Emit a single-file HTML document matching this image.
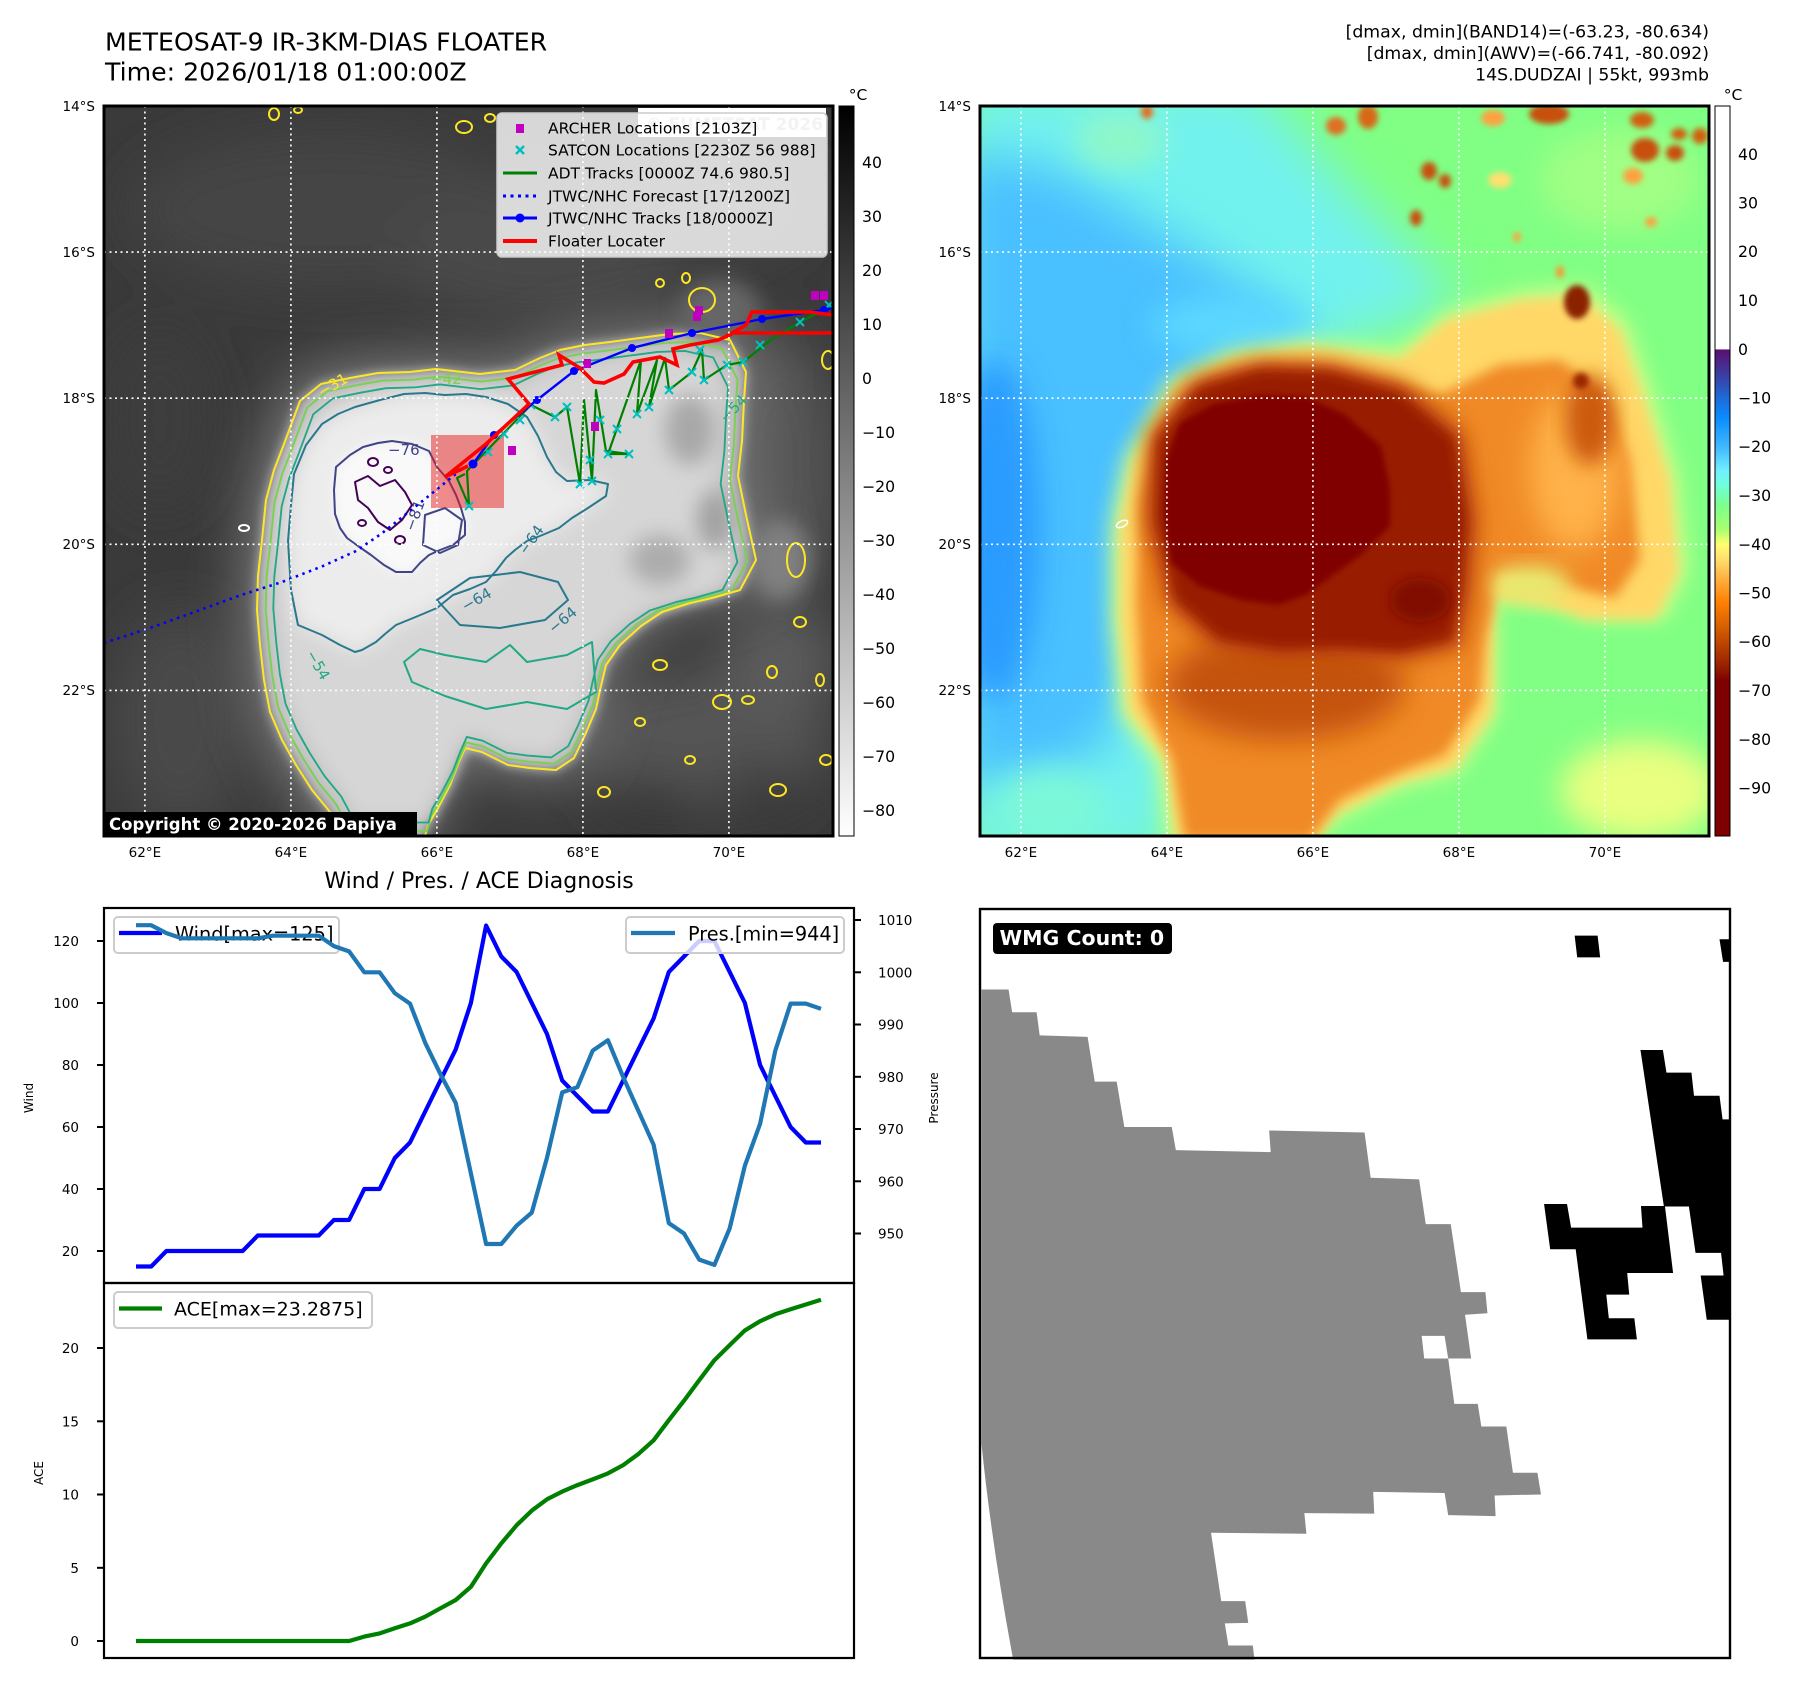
<!DOCTYPE html>
<html><head><meta charset="utf-8">
<style>
html,body{margin:0;padding:0;background:#fff;}
svg{display:block;}
text{font-family:"DejaVu Sans","Liberation Sans",sans-serif;}
</style></head>
<body>
<svg width="1797" height="1695" viewBox="0 0 1797 1695" xmlns="http://www.w3.org/2000/svg">
<defs>
<clipPath id="cl"><rect x="104" y="106" width="729" height="730"/></clipPath>
<clipPath id="cr"><rect x="980" y="106" width="729" height="730"/></clipPath>
<clipPath id="cw"><rect x="104" y="908" width="750" height="375"/></clipPath>
<clipPath id="ca"><rect x="104" y="1283" width="750" height="375"/></clipPath>
<filter id="b3" x="-20%" y="-20%" width="140%" height="140%"><feGaussianBlur stdDeviation="3"/></filter>
<filter id="b6" x="-20%" y="-20%" width="140%" height="140%"><feGaussianBlur stdDeviation="6"/></filter>
<filter id="b10" x="-30%" y="-30%" width="160%" height="160%"><feGaussianBlur stdDeviation="10"/></filter>
<filter id="b15" x="-40%" y="-40%" width="180%" height="180%"><feGaussianBlur stdDeviation="15"/></filter>
<filter id="b25" x="-50%" y="-50%" width="200%" height="200%"><feGaussianBlur stdDeviation="25"/></filter>
<linearGradient id="gcb" x1="0" y1="0" x2="0" y2="1">
<stop offset="0" stop-color="#000"/><stop offset="1" stop-color="#fff"/>
</linearGradient>
<linearGradient id="ccb" x1="0" y1="0" x2="0" y2="1">
<stop offset="0" stop-color="#fff"/><stop offset="0.333" stop-color="#fff"/>
<stop offset="0.334" stop-color="#5a1070"/>
<stop offset="0.367" stop-color="#3c3ca0"/>
<stop offset="0.4" stop-color="#1e6ad8"/>
<stop offset="0.427" stop-color="#0a8cff"/>
<stop offset="0.467" stop-color="#40b8ff"/>
<stop offset="0.5" stop-color="#70f0ff"/>
<stop offset="0.52" stop-color="#70ffd8"/>
<stop offset="0.547" stop-color="#7cff8c"/>
<stop offset="0.58" stop-color="#a8ff70"/>
<stop offset="0.6" stop-color="#ffff70"/>
<stop offset="0.62" stop-color="#ffe070"/>
<stop offset="0.647" stop-color="#ffb040"/>
<stop offset="0.68" stop-color="#ff8000"/>
<stop offset="0.713" stop-color="#d86000"/>
<stop offset="0.747" stop-color="#b03800"/>
<stop offset="0.773" stop-color="#901800"/>
<stop offset="0.787" stop-color="#7f0000"/>
<stop offset="1" stop-color="#7f0000"/>
</linearGradient>
</defs>

<!-- Titles -->
<text x="105" y="50.5" font-size="25.2">METEOSAT-9 IR-3KM-DIAS FLOATER</text>
<text x="105" y="80.5" font-size="25.2">Time: 2026/01/18 01:00:00Z</text>
<text x="1709" y="37.3" font-size="17.3" text-anchor="end">[dmax, dmin](BAND14)=(-63.23, -80.634)</text>
<text x="1709" y="59" font-size="17.3" text-anchor="end">[dmax, dmin](AWV)=(-66.741, -80.092)</text>
<text x="1709" y="80.7" font-size="17.3" text-anchor="end">14S.DUDZAI | 55kt, 993mb</text>

<!-- ================= LEFT MAP ================= -->
<g clip-path="url(#cl)">
<rect x="104" y="106" width="729" height="730" fill="#3a3a3a"/>
<g filter="url(#b25)">
<ellipse cx="330" cy="210" rx="200" ry="80" fill="#444"/>
<ellipse cx="540" cy="250" rx="150" ry="70" fill="#4a4a4a"/>
<ellipse cx="720" cy="200" rx="90" ry="60" fill="#454545"/>
<ellipse cx="780" cy="470" rx="60" ry="140" fill="#555"/>
<ellipse cx="700" cy="740" rx="130" ry="70" fill="#545454"/>
<ellipse cx="780" cy="660" rx="60" ry="50" fill="#5c5c5c"/>
<ellipse cx="650" cy="805" rx="45" ry="25" fill="#343434"/>
<ellipse cx="760" cy="790" rx="40" ry="25" fill="#3a3a3a"/>
<ellipse cx="180" cy="720" rx="70" ry="110" fill="#484848"/>
<ellipse cx="160" cy="420" rx="50" ry="90" fill="#3e3e3e"/>
</g>
<g transform="translate(505 590) scale(1.06) translate(-505 -590)" filter="url(#b25)">
<path fill="#787878" d="M300,401 L321,384 L350,378 L378,373 L410,372 L436,369 L480,374 L515,370 L540,358 L560,350 L585,345 L610,342 L640,338 L670,334 L700,333 L730,340 L746,372 L744,400 L742,441 L738,476 L746,515 L756,560 L740,590 L712,598 L690,603 L662,612 L641,626 L620,645 L606,665 L600,690 L596,709 L585,735 L574,758 L556,770 L530,768 L508,765 L482,752 L465,748 L458,764 L450,785 L438,808 L428,825 L424,840 L345,840 L330,812 L312,790 L296,765 L282,740 L270,712 L264,680 L260,645 L257,610 L258,576 L262,540 L266,500 L274,470 L284,444 Z"/>
</g>
<path fill="#c0c0c0" filter="url(#b6)" d="M300,401 L321,384 L350,378 L378,373 L410,372 L436,369 L480,374 L515,370 L540,358 L560,350 L585,345 L610,342 L640,338 L670,334 L700,333 L730,340 L746,372 L744,400 L742,441 L738,476 L746,515 L756,560 L740,590 L712,598 L690,603 L662,612 L641,626 L620,645 L606,665 L600,690 L596,709 L585,735 L574,758 L556,770 L530,768 L508,765 L482,752 L465,748 L458,764 L450,785 L438,808 L428,825 L424,840 L345,840 L330,812 L312,790 L296,765 L282,740 L270,712 L264,680 L260,645 L257,610 L258,576 L262,540 L266,500 L274,470 L284,444 Z"/>
<g transform="translate(470 590) scale(0.92) translate(-470 -590)" filter="url(#b10)">
<path fill="#d6d6d6" d="M300,401 L321,384 L350,378 L378,373 L410,372 L436,369 L480,374 L515,370 L540,358 L560,350 L585,345 L610,342 L640,338 L670,334 L700,333 L730,340 L746,372 L744,400 L742,441 L738,476 L746,515 L756,560 L740,590 L712,598 L690,603 L662,612 L641,626 L620,645 L606,665 L600,690 L596,709 L585,735 L574,758 L556,770 L530,768 L508,765 L482,752 L465,748 L458,764 L450,785 L438,808 L428,825 L424,840 L345,840 L330,812 L312,790 L296,765 L282,740 L270,712 L264,680 L260,645 L257,610 L258,576 L262,540 L266,500 L274,470 L284,444 Z"/>
</g>
<g filter="url(#b10)">
<ellipse cx="690" cy="430" rx="25" ry="35" fill="#a8a8a8"/>
<ellipse cx="660" cy="560" rx="30" ry="25" fill="#acacac"/>
<ellipse cx="715" cy="520" rx="18" ry="30" fill="#a0a0a0"/>
</g>
<path fill="#ececec" filter="url(#b10)" d="M298,625 L291,590 L288,541 L291,505 L294,474 L306,445 L322,424 L338,414 L355,407 L380,400 L404,394 L425,393 L445,395 L466,394 L486,397 L508,404 L527,417 L538,436 L547,457 L556,472 L567,481 L590,480 L608,484 L606,496 L588,508 L572,518 L559,528 L540,536 L527,541 L515,550 L506,558 L496,571 L486,582 L470,589 L453,595 L437,608 L418,616 L396,625 L385,634 L376,642 L362,650 L355,652 L340,645 L322,635 L310,630 Z"/>
<path fill="#f9f9f9" filter="url(#b6)" d="M335,514 L334,490 L336,467 L350,455 L363,447 L378,443 L392,441 L412,444 L429,451 L437,467 L449,481 L456,495 L461,508 L465,522 L465,535 L453,545 L440,550 L429,555 L420,563 L412,572 L396,572 L384,565 L371,555 L358,546 L347,538 L340,528 Z"/>
<ellipse cx="720" cy="310" rx="40" ry="30" fill="#666" filter="url(#b10)"/>
<ellipse cx="780" cy="560" rx="30" ry="40" fill="#808080" filter="url(#b10)"/>

<g fill="none" stroke-width="2" stroke-linejoin="round">
<path stroke="#fde725" d="M300,401 L321,384 L350,378 L378,373 L410,372 L436,369 L480,374 L515,370 L540,358 L560,350 L585,345 L610,342 L640,338 L670,334 L700,333 L730,340 L746,372 L744,400 L742,441 L738,476 L746,515 L756,560 L740,590 L712,598 L690,603 L662,612 L641,626 L620,645 L606,665 L600,690 L596,709 L585,735 L574,758 L556,770 L530,768 L508,765 L482,752 L465,748 L458,764 L450,785 L438,808 L428,825 L424,840 L345,840 L330,812 L312,790 L296,765 L282,740 L270,712 L264,680 L260,645 L257,610 L258,576 L262,540 L266,500 L274,470 L284,444 Z"/>
<g transform="translate(505 590) scale(0.965) translate(-505 -590)">
<path stroke="#7ad151" d="M300,401 L321,384 L350,378 L378,373 L410,372 L436,369 L480,374 L515,370 L540,358 L560,350 L585,345 L610,342 L640,338 L670,334 L700,333 L730,340 L746,372 L744,400 L742,441 L738,476 L746,515 L756,560 L740,590 L712,598 L690,603 L662,612 L641,626 L620,645 L606,665 L600,690 L596,709 L585,735 L574,758 L556,770 L530,768 L508,765 L482,752 L465,748 L458,764 L450,785 L438,808 L428,825 L424,840 L345,840 L330,812 L312,790 L296,765 L282,740 L270,712 L264,680 L260,645 L257,610 L258,576 L262,540 L266,500 L274,470 L284,444 Z"/>
</g>
<g transform="translate(490 590) scale(0.93) translate(-490 -590)">
<path stroke="#22a884" d="M300,401 L321,384 L350,378 L378,373 L410,372 L436,369 L480,374 L515,370 L540,358 L560,350 L585,345 L610,342 L640,338 L670,334 L700,333 L730,340 L746,372 L744,400 L742,441 L738,476 L746,515 L756,560 L740,590 L712,598 L690,603 L662,612 L641,626 L620,645 L606,665 L600,690 L596,709 L585,735 L574,758 L556,770 L530,768 L508,765 L482,752 L465,748 L458,764 L450,785 L438,808 L428,825 L424,840 L345,840 L330,812 L312,790 L296,765 L282,740 L270,712 L264,680 L260,645 L257,610 L258,576 L262,540 L266,500 L274,470 L284,444 Z"/>
</g>
<path stroke="#22a884" d="M404,662 L420,649 L445,655 L486,662 L510,645 L527,662 L567,655 L592,642 L596,692 L567,709 L527,702 L486,709 L445,696 L412,682 Z"/>
<path stroke="#2a788e" d="M298,625 L291,590 L288,541 L291,505 L294,474 L306,445 L322,424 L338,414 L355,407 L380,400 L404,394 L425,393 L445,395 L466,394 L486,397 L508,404 L527,417 L538,436 L547,457 L556,472 L567,481 L590,480 L608,484 L606,496 L588,508 L572,518 L559,528 L540,536 L527,541 L515,550 L506,558 L496,571 L486,582 L470,589 L453,595 L437,608 L418,616 L396,625 L385,634 L376,642 L362,650 L355,652 L340,645 L322,635 L310,630 Z"/>
<path stroke="#2a788e" d="M437,600 L470,578 L520,572 L558,582 L568,600 L545,620 L500,628 L460,625 Z"/>
<path stroke="#414487" d="M335,514 L334,490 L336,467 L350,455 L363,447 L378,443 L392,441 L412,444 L429,451 L437,467 L449,481 L456,495 L461,508 L465,522 L465,535 L453,545 L440,550 L429,555 L420,563 L412,572 L396,572 L384,565 L371,555 L358,546 L347,538 L340,528 Z"/>
<path stroke="#414487" d="M425,515 L445,508 L462,520 L458,545 L440,553 L423,545 Z"/>
<path stroke="#440154" d="M355,482 L368,476 L380,486 L395,480 L405,492 L412,505 L402,520 L390,530 L378,522 L368,508 L358,500 Z"/>
<ellipse cx="373" cy="462" rx="5" ry="4" stroke="#440154"/>
<ellipse cx="388" cy="470" rx="4" ry="3" stroke="#440154"/>
<ellipse cx="362" cy="523" rx="4" ry="3" stroke="#440154"/>
<ellipse cx="400" cy="540" rx="5" ry="4" stroke="#440154"/>
<g stroke="#fde725">
<ellipse cx="274" cy="114" rx="5" ry="6"/>
<ellipse cx="298" cy="110" rx="4" ry="3"/>
<ellipse cx="464" cy="127" rx="8" ry="6"/>
<ellipse cx="490" cy="118" rx="5" ry="4"/>
<ellipse cx="702" cy="300" rx="13" ry="12"/>
<ellipse cx="660" cy="283" rx="4" ry="4"/>
<ellipse cx="686" cy="278" rx="4" ry="5"/>
<ellipse cx="828" cy="360" rx="6" ry="9"/>
<ellipse cx="796" cy="560" rx="9" ry="17"/>
<ellipse cx="800" cy="622" rx="6" ry="5"/>
<ellipse cx="778" cy="790" rx="8" ry="6"/>
<ellipse cx="660" cy="665" rx="7" ry="5"/>
<ellipse cx="722" cy="702" rx="9" ry="7"/>
<ellipse cx="772" cy="672" rx="5" ry="6"/>
<ellipse cx="640" cy="722" rx="5" ry="4"/>
<ellipse cx="826" cy="760" rx="6" ry="5"/>
<ellipse cx="604" cy="792" rx="6" ry="5"/>
<ellipse cx="748" cy="700" rx="6" ry="4"/>
<ellipse cx="820" cy="680" rx="4" ry="6"/>
<ellipse cx="690" cy="760" rx="5" ry="4"/>
<ellipse cx="244" cy="528" rx="5" ry="3" stroke="#ffffff"/>
</g>
</g>
<g font-size="15">
<text x="318" y="392" fill="#fde725" transform="rotate(-30 330 388)">−31</text>
<text x="430" y="384" fill="#7ad151">−42</text>
<text x="388" y="455" fill="#414487">−76</text>
<text x="400" y="528" fill="#414487" transform="rotate(-70 410 520)">−81</text>
<text x="513" y="550" fill="#2a788e" transform="rotate(-55 525 540)">−64</text>
<text x="460" y="608" fill="#2a788e" transform="rotate(-30 470 600)">−64</text>
<text x="545" y="630" fill="#2a788e" transform="rotate(-40 555 620)">−64</text>
<text x="716" y="420" fill="#22a884" transform="rotate(-45 725 410)">−54</text>
<text x="305" y="665" fill="#22a884" transform="rotate(60 315 660)">−54</text>
</g>

<rect x="431" y="435" width="73" height="73" fill="#e81e1e" opacity="0.5"/>

<path fill="none" stroke="#0000ff" stroke-width="2.6" stroke-dasharray="2.5,4.5" d="M104,643 L150,628 L200,610 L241,595 L282,582 L323,566 L356,551 L381,534 L430,495 L463,468 L473,464"/>
<path fill="none" stroke="#008000" stroke-width="2.2" stroke-linejoin="round" d="M833,305 L800,322 L771,340 L743,362 L727,365 L704,380 L702,350 L692,372 L669,390 L665,358 L649,407 L657,360 L637,414 L641,360 L608,454 L629,454 L606,451 L596,390 L592,481 L584,400 L580,484 L567,407 L555,417 L531,405 L467,471 L469,506 L457,478 L465,474"/>
<path fill="none" stroke="#00bfbf" stroke-width="2" d="M739,358 l8,8 m0,-8 l-8,8 M723,361 l8,8 m0,-8 l-8,8 M700,376 l8,8 m0,-8 l-8,8 M688,368 l8,8 m0,-8 l-8,8 M665,386 l8,8 m0,-8 l-8,8 M645,403 l8,8 m0,-8 l-8,8 M633,410 l8,8 m0,-8 l-8,8 M604,450 l8,8 m0,-8 l-8,8 M625,450 l8,8 m0,-8 l-8,8 M588,477 l8,8 m0,-8 l-8,8 M576,480 l8,8 m0,-8 l-8,8 M563,403 l8,8 m0,-8 l-8,8 M551,413 l8,8 m0,-8 l-8,8 M527,401 l8,8 m0,-8 l-8,8 M465,502 l8,8 m0,-8 l-8,8 M596,416 l8,8 m0,-8 l-8,8 M586,456 l8,8 m0,-8 l-8,8 M516,416 l8,8 m0,-8 l-8,8 M696,346 l8,8 m0,-8 l-8,8 M756,341 l8,8 m0,-8 l-8,8 M796,318 l8,8 m0,-8 l-8,8 M825,301 l8,8 m0,-8 l-8,8 M500,430 l8,8 m0,-8 l-8,8 M484,448 l8,8 m0,-8 l-8,8 M613,425 l8,8 m0,-8 l-8,8"/>
<path fill="none" stroke="#0000ff" stroke-width="2.4" d="M833,308 L824,310 L762,319 L692,333 L632,348 L574,371 L537,400 L494,435 L473,464"/>
<g fill="#0000ff">
<circle cx="824" cy="310" r="4"/><circle cx="762" cy="319" r="4"/><circle cx="692" cy="333" r="4"/><circle cx="632" cy="348" r="4"/><circle cx="574" cy="371" r="4"/><circle cx="537" cy="400" r="4"/><circle cx="494" cy="435" r="4"/><circle cx="473" cy="464" r="4.5"/>
</g>
<path fill="none" stroke="#ff0000" stroke-width="3.6" stroke-linejoin="miter" d="M833,315 L809,312 L752,312 L746,325 L732,333 L833,333 M732,334 L718,340 L690,345 L673,349 L677,365 L660,357 L633,362 L624,374 L604,383 L594,382 L580,368 L559,355 L562,365 L508,379 L529,404 L486,444 L445,477 L468,466"/>
<g fill="#bf00bf">
<rect x="811" y="291" width="8" height="9"/><rect x="820" y="291" width="8" height="9"/><rect x="695" y="306" width="8" height="9"/><rect x="693" y="312" width="8" height="9"/><rect x="665" y="329" width="8" height="9"/><rect x="583" y="359" width="8" height="9"/><rect x="591" y="422" width="8" height="9"/><rect x="508" y="446" width="8" height="9"/>
</g>

<g stroke="#fff" stroke-width="1.6" stroke-dasharray="2,3.5">
<line x1="144.9" y1="106" x2="144.9" y2="836"/><line x1="290.9" y1="106" x2="290.9" y2="836"/><line x1="436.9" y1="106" x2="436.9" y2="836"/><line x1="582.9" y1="106" x2="582.9" y2="836"/><line x1="728.9" y1="106" x2="728.9" y2="836"/>
<line x1="104" y1="252.1" x2="833" y2="252.1"/><line x1="104" y1="398.2" x2="833" y2="398.2"/><line x1="104" y1="544.3" x2="833" y2="544.3"/><line x1="104" y1="690.4" x2="833" y2="690.4"/>
</g>

<rect x="638" y="108" width="188" height="29" fill="#fff"/>
<text x="823" y="130" font-size="17" font-weight="bold" fill="#c4c4c4" text-anchor="end">© EUMETSAT 2026</text>
<rect x="497" y="113" width="330" height="144" rx="5" fill="#fff" fill-opacity="0.8" stroke="#cccccc" stroke-width="1.5"/>
<rect x="516" y="124" width="8" height="9" fill="#bf00bf"/>
<path d="M516,146 l8,8 m0,-8 l-8,8" stroke="#00bfbf" stroke-width="2.5" fill="none"/>
<line x1="503" y1="173" x2="537" y2="173" stroke="#008000" stroke-width="3"/>
<line x1="503" y1="196" x2="537" y2="196" stroke="#0000ff" stroke-width="3" stroke-dasharray="3,4.5"/>
<line x1="503" y1="218" x2="537" y2="218" stroke="#0000ff" stroke-width="3"/>
<circle cx="520" cy="218" r="4.5" fill="#0000ff"/>
<line x1="503" y1="241" x2="537" y2="241" stroke="#ff0000" stroke-width="4"/>
<g font-size="15.5" fill="#000">
<text x="548" y="133.5">ARCHER Locations [2103Z]</text>
<text x="548" y="155.5">SATCON Locations [2230Z 56 988]</text>
<text x="548" y="178.5">ADT Tracks [0000Z 74.6 980.5]</text>
<text x="548" y="201.5">JTWC/NHC Forecast [17/1200Z]</text>
<text x="548" y="223.5">JTWC/NHC Tracks [18/0000Z]</text>
<text x="548" y="246.5">Floater Locater</text>
</g>
<rect x="104" y="812" width="313" height="24" fill="#000"/>
<text x="109" y="830" font-size="16.5" font-weight="bold" fill="#fff">Copyright © 2020-2026 Dapiya</text>
</g>
<rect x="104" y="106" width="729" height="730" fill="none" stroke="#000" stroke-width="3"/>

<g font-size="13.5" fill="#000">
<text x="95" y="111" text-anchor="end">14°S</text>
<text x="95" y="257" text-anchor="end">16°S</text>
<text x="95" y="403" text-anchor="end">18°S</text>
<text x="95" y="549" text-anchor="end">20°S</text>
<text x="95" y="695" text-anchor="end">22°S</text>
<text x="144.9" y="857" text-anchor="middle">62°E</text>
<text x="290.9" y="857" text-anchor="middle">64°E</text>
<text x="436.9" y="857" text-anchor="middle">66°E</text>
<text x="582.9" y="857" text-anchor="middle">68°E</text>
<text x="728.9" y="857" text-anchor="middle">70°E</text>
</g>

<rect x="839" y="106" width="15" height="730" fill="url(#gcb)" stroke="#000" stroke-width="1"/>
<text x="858" y="100" font-size="15.5" text-anchor="middle">°C</text>
<g font-size="15.7" fill="#000">
<text x="862" y="168">40</text><text x="862" y="222">30</text><text x="862" y="276">20</text><text x="862" y="330">10</text><text x="862" y="384">0</text>
<text x="862" y="438">−10</text><text x="862" y="492">−20</text><text x="862" y="546">−30</text><text x="862" y="600">−40</text><text x="862" y="654">−50</text>
<text x="862" y="708">−60</text><text x="862" y="762">−70</text><text x="862" y="816">−80</text>
</g>

<!-- ================= RIGHT MAP ================= -->
<g clip-path="url(#cr)">
<rect x="980" y="106" width="729" height="730" fill="#80ff84"/>
<polygon filter="url(#b25)" fill="#72f2ee" points="960,80 1255,80 1340,180 1460,300 1300,360 1200,400 1170,860 960,860"/>
<polygon filter="url(#b25)" fill="#48c0ff" points="960,150 1060,170 1200,255 1310,330 1210,380 1150,520 1140,680 1090,760 960,790"/>
<ellipse cx="995" cy="530" rx="45" ry="170" fill="#2a9cff" filter="url(#b15)"/>
<ellipse cx="1230" cy="325" rx="80" ry="28" fill="#5cd8ff" filter="url(#b15)"/>
<ellipse cx="1120" cy="140" rx="45" ry="28" fill="#90f8c8" filter="url(#b15)"/>
<ellipse cx="1050" cy="810" rx="60" ry="40" fill="#7cf8d8" filter="url(#b15)"/>
<ellipse cx="1640" cy="790" rx="80" ry="50" fill="#e8ff80" filter="url(#b15)"/>
<ellipse cx="1620" cy="180" rx="80" ry="50" fill="#a0ff84" filter="url(#b15)"/>
<g transform="translate(1400 590) scale(1.035) translate(-1400 -590)" filter="url(#b10)">
<path fill="#c8ff88" d="M1157,423 L1176,386 L1236,358 L1306,348 L1400,358 L1446,320 L1520,300 L1580,295 L1620,330 L1640,386 L1670,479 L1679,572 L1656,619 L1586,619 L1530,600 L1493,595 L1493,712 L1455,768 L1400,782 L1334,815 L1316,840 L1176,840 L1166,759 L1129,712 L1120,619 L1120,526 L1134,460 Z"/>
</g>
<path fill="#ffd868" filter="url(#b6)" d="M1157,423 L1176,386 L1236,358 L1306,348 L1400,358 L1446,320 L1520,300 L1580,295 L1620,330 L1640,386 L1670,479 L1679,572 L1656,619 L1586,619 L1530,600 L1493,595 L1493,712 L1455,768 L1400,782 L1334,815 L1316,840 L1176,840 L1166,759 L1129,712 L1120,619 L1120,526 L1134,460 Z"/>
<path fill="#f08a26" filter="url(#b6)" d="M1140,500 L1160,430 L1210,380 L1270,365 L1330,368 L1390,380 L1440,395 L1500,365 L1560,360 L1605,395 L1630,460 L1640,560 L1615,598 L1560,585 L1500,575 L1485,640 L1480,700 L1445,755 L1400,772 L1340,800 L1310,840 L1185,840 L1172,760 L1142,700 L1136,600 Z"/>
<ellipse cx="1575" cy="470" rx="45" ry="80" fill="#ffb24a" filter="url(#b15)"/>
<ellipse cx="1530" cy="585" rx="40" ry="20" fill="#e8e870" filter="url(#b10)"/>
<ellipse cx="1285" cy="685" rx="120" ry="55" fill="#c4520e" filter="url(#b15)"/>
<ellipse cx="1590" cy="420" rx="25" ry="45" fill="#cc5a10" filter="url(#b10)"/>
<g transform="translate(1310 520) scale(1.07) translate(-1310 -520)" filter="url(#b10)">
<path fill="#c04a08" d="M1158,440 L1198,388 L1260,370 L1330,372 L1400,392 L1455,438 L1468,520 L1462,590 L1452,640 L1400,652 L1340,648 L1280,650 L1220,640 L1175,600 L1155,520 Z"/>
</g>
<path fill="#981c00" filter="url(#b6)" d="M1158,440 L1198,388 L1260,370 L1330,372 L1400,392 L1455,438 L1468,520 L1462,590 L1452,640 L1400,652 L1340,648 L1280,650 L1220,640 L1175,600 L1155,520 Z"/>
<path fill="#800000" filter="url(#b3)" d="M1166,460 L1180,423 L1213,404 L1260,395 L1306,397 L1344,414 L1381,446 L1390,488 L1390,526 L1362,554 L1306,595 L1278,605 L1241,600 L1199,586 L1171,563 L1164,516 Z"/>
<ellipse cx="1420" cy="600" rx="30" ry="22" fill="#801000" filter="url(#b6)"/>
<g filter="url(#b3)">
<ellipse cx="1147" cy="112" rx="6" ry="7" fill="#e07020"/>
<ellipse cx="1336" cy="126" rx="10" ry="9" fill="#e07020"/>
<ellipse cx="1368" cy="117" rx="10" ry="12" fill="#d86818"/>
<ellipse cx="1429" cy="171" rx="8" ry="9" fill="#c85010"/>
<ellipse cx="1445" cy="181" rx="6" ry="7" fill="#c85010"/>
<ellipse cx="1416" cy="218" rx="6" ry="8" fill="#c85010"/>
<ellipse cx="1549" cy="114" rx="20" ry="10" fill="#c85010"/>
<ellipse cx="1493" cy="118" rx="12" ry="8" fill="#ffa040"/>
<ellipse cx="1642" cy="120" rx="12" ry="8" fill="#d06010"/>
<ellipse cx="1645" cy="150" rx="14" ry="12" fill="#c85010"/>
<ellipse cx="1675" cy="153" rx="9" ry="8" fill="#c85010"/>
<ellipse cx="1679" cy="134" rx="8" ry="6" fill="#d06010"/>
<ellipse cx="1700" cy="136" rx="8" ry="8" fill="#d06010"/>
<ellipse cx="1633" cy="176" rx="10" ry="8" fill="#ffa040"/>
<ellipse cx="1577" cy="302" rx="13" ry="17" fill="#8a2000"/>
<ellipse cx="1581" cy="381" rx="8" ry="8" fill="#9a2800"/>
<ellipse cx="1517" cy="237" rx="4" ry="5" fill="#ffa040"/>
<ellipse cx="1651" cy="222" rx="6" ry="5" fill="#ffa040"/>
<ellipse cx="1560" cy="272" rx="4" ry="6" fill="#ff9030"/>
<ellipse cx="1500" cy="180" rx="12" ry="8" fill="#ffe070"/>
</g>
<g stroke="#fff" stroke-width="1.6" stroke-dasharray="2,3.5">
<line x1="1020.9" y1="106" x2="1020.9" y2="836"/><line x1="1166.9" y1="106" x2="1166.9" y2="836"/><line x1="1312.9" y1="106" x2="1312.9" y2="836"/><line x1="1458.9" y1="106" x2="1458.9" y2="836"/><line x1="1604.9" y1="106" x2="1604.9" y2="836"/>
<line x1="980" y1="252.1" x2="1709" y2="252.1"/><line x1="980" y1="398.2" x2="1709" y2="398.2"/><line x1="980" y1="544.3" x2="1709" y2="544.3"/><line x1="980" y1="690.4" x2="1709" y2="690.4"/>
</g>
<ellipse cx="1122" cy="524" rx="6" ry="3" fill="none" stroke="#fff" stroke-width="1.5" transform="rotate(-25 1122 524)"/>
</g>
<rect x="980" y="106" width="729" height="730" fill="none" stroke="#000" stroke-width="3"/>
<g font-size="13.5" fill="#000">
<text x="971" y="111" text-anchor="end">14°S</text>
<text x="971" y="257" text-anchor="end">16°S</text>
<text x="971" y="403" text-anchor="end">18°S</text>
<text x="971" y="549" text-anchor="end">20°S</text>
<text x="971" y="695" text-anchor="end">22°S</text>
<text x="1020.9" y="857" text-anchor="middle">62°E</text>
<text x="1166.9" y="857" text-anchor="middle">64°E</text>
<text x="1312.9" y="857" text-anchor="middle">66°E</text>
<text x="1458.9" y="857" text-anchor="middle">68°E</text>
<text x="1604.9" y="857" text-anchor="middle">70°E</text>
</g>
<rect x="1715" y="106" width="15" height="730" fill="url(#ccb)" stroke="#000" stroke-width="1"/>
<text x="1733" y="100" font-size="15.5" text-anchor="middle">°C</text>
<g font-size="15.7" fill="#000">
<text x="1738" y="160">40</text><text x="1738" y="208.5">30</text><text x="1738" y="257">20</text><text x="1738" y="306">10</text><text x="1738" y="355">0</text>
<text x="1738" y="403.5">−10</text><text x="1738" y="452">−20</text><text x="1738" y="501">−30</text><text x="1738" y="550">−40</text><text x="1738" y="598.5">−50</text>
<text x="1738" y="647">−60</text><text x="1738" y="696">−70</text><text x="1738" y="745">−80</text><text x="1738" y="793.5">−90</text>
</g>

<!-- ================= WIND / PRES / ACE ================= -->
<text x="479" y="888" font-size="22" text-anchor="middle">Wind / Pres. / ACE Diagnosis</text>
<g clip-path="url(#cw)">
<polyline fill="none" stroke="#0000ff" stroke-width="4.2" stroke-linejoin="round" points="136,1266.5 151.2,1266.5 166.4,1251 181.7,1251 196.9,1251 212.1,1251 227.3,1251 242.6,1251 257.8,1235.5 273,1235.5 288.2,1235.5 303.4,1235.5 318.7,1235.5 333.9,1220 349.1,1220 364.3,1189 379.6,1189 394.8,1158 410,1142.5 425.2,1111.5 440.4,1080.5 455.7,1049.5 470.9,1003 486.1,925.5 501.3,956.5 516.6,972 531.8,1003 547,1034 562.2,1080.5 577.4,1096 592.7,1111.5 607.9,1111.5 623.1,1080.5 638.3,1049.5 653.6,1018.5 668.8,972 684,956.5 699.2,941 714.4,941 729.7,972 744.9,1003 760.1,1065 775.3,1096 790.6,1127 805.8,1142.5 821,1142.5"/>
<rect x="114" y="917" width="225" height="36" rx="4" fill="#fff" fill-opacity="0.8" stroke="#cccccc" stroke-width="2"/>
<line x1="119" y1="933" x2="162" y2="933" stroke="#0000ff" stroke-width="4.2"/>
<text x="175" y="940.5" font-size="19.3">Wind[max=125]</text>
<polyline fill="none" stroke="#1f77b4" stroke-width="4.2" stroke-linejoin="round" points="136,925.2 151.2,925.2 166.4,933.1 181.7,938.3 196.9,938.3 212.1,938.3 227.3,938.3 242.6,938.3 257.8,938.3 273,935.7 288.2,935.7 303.4,935.7 318.7,935.7 333.9,946.1 349.1,951.4 364.3,972.3 379.6,972.3 394.8,993.2 410,1003.6 425.2,1042.8 440.4,1074.1 455.7,1102.9 470.9,1173.4 486.1,1244 501.3,1244 516.6,1225.7 531.8,1212.6 547,1157.7 562.2,1092.4 577.4,1087.2 592.7,1050.6 607.9,1040.2 623.1,1076.8 638.3,1110.7 653.6,1144.7 668.8,1223.1 684,1233.5 699.2,1259.6 714.4,1264.9 729.7,1228.3 744.9,1165.6 760.1,1123.8 775.3,1050.6 790.6,1003.6 805.8,1003.6 821,1008.8"/>
<rect x="626" y="917" width="218" height="36" rx="4" fill="#fff" fill-opacity="0.8" stroke="#cccccc" stroke-width="2"/>
<line x1="631" y1="933" x2="675" y2="933" stroke="#1f77b4" stroke-width="4.2"/>
<text x="688" y="940.5" font-size="19.3">Pres.[min=944]</text>
</g>
<rect x="104" y="908" width="750" height="375" fill="none" stroke="#000" stroke-width="2.2"/>
<g stroke="#000" stroke-width="2">
<line x1="97" y1="941" x2="104" y2="941"/><line x1="97" y1="1003" x2="104" y2="1003"/><line x1="97" y1="1065" x2="104" y2="1065"/><line x1="97" y1="1127" x2="104" y2="1127"/><line x1="97" y1="1189" x2="104" y2="1189"/><line x1="97" y1="1251" x2="104" y2="1251"/>
<line x1="854" y1="920" x2="861" y2="920"/><line x1="854" y1="972.3" x2="861" y2="972.3"/><line x1="854" y1="1024.5" x2="861" y2="1024.5"/><line x1="854" y1="1076.8" x2="861" y2="1076.8"/><line x1="854" y1="1129" x2="861" y2="1129"/><line x1="854" y1="1181.3" x2="861" y2="1181.3"/><line x1="854" y1="1233.5" x2="861" y2="1233.5"/>
<line x1="97" y1="1348" x2="104" y2="1348"/><line x1="97" y1="1421.3" x2="104" y2="1421.3"/><line x1="97" y1="1494.5" x2="104" y2="1494.5"/><line x1="97" y1="1567.8" x2="104" y2="1567.8"/><line x1="97" y1="1641" x2="104" y2="1641"/>
</g>
<g font-size="13.5" fill="#000">
<text x="79" y="946" text-anchor="end">120</text><text x="79" y="1008" text-anchor="end">100</text><text x="79" y="1070" text-anchor="end">80</text><text x="79" y="1132" text-anchor="end">60</text><text x="79" y="1194" text-anchor="end">40</text><text x="79" y="1256" text-anchor="end">20</text>
<text x="878" y="925">1010</text><text x="878" y="977.3">1000</text><text x="878" y="1029.5">990</text><text x="878" y="1081.8">980</text><text x="878" y="1134">970</text><text x="878" y="1186.3">960</text><text x="878" y="1238.5">950</text>
<text x="79" y="1353" text-anchor="end">20</text><text x="79" y="1426.3" text-anchor="end">15</text><text x="79" y="1499.5" text-anchor="end">10</text><text x="79" y="1572.8" text-anchor="end">5</text><text x="79" y="1646" text-anchor="end">0</text>
</g>
<text transform="translate(33 1098) rotate(-90)" font-size="12" text-anchor="middle">Wind</text>
<text transform="translate(43 1473) rotate(-90)" font-size="12" text-anchor="middle">ACE</text>
<text transform="translate(938 1098) rotate(-90)" font-size="12" text-anchor="middle">Pressure</text>

<g clip-path="url(#ca)">
<polyline fill="none" stroke="#008000" stroke-width="4.2" stroke-linejoin="round" points="136,1641 349.1,1641 364.3,1636.6 379.6,1633.4 394.8,1628.3 410,1623.4 425.2,1616.7 440.4,1608.3 455.7,1600 470.9,1586.8 486.1,1563.4 501.3,1543.4 516.6,1525.3 531.8,1510.6 547,1499.3 562.2,1491.6 577.4,1485.1 592.7,1479.4 607.9,1473.4 623.1,1465.2 638.3,1454.1 653.6,1440.3 668.8,1420.2 684,1400.7 699.2,1380.2 714.4,1360.2 729.7,1345.1 744.9,1330.4 760.1,1321.2 775.3,1314.3 790.6,1309.2 805.8,1304.5 821,1299.8"/>
<rect x="114" y="1292" width="258" height="36" rx="4" fill="#fff" fill-opacity="0.8" stroke="#cccccc" stroke-width="2"/>
<line x1="119" y1="1308.5" x2="162" y2="1308.5" stroke="#008000" stroke-width="4.2"/>
<text x="174" y="1315.5" font-size="19">ACE[max=23.2875]</text>
</g>
<rect x="104" y="1283" width="750" height="375" fill="none" stroke="#000" stroke-width="2.2"/>

<!-- ================= WMG PANEL ================= -->
<rect x="980" y="909" width="750" height="749" fill="#fff"/>
<g transform="matrix(0.51,0,0,0.5034,961.13,890.37)">
<path fill="#898989" d="M40,197 L93,197 L100,242 L148,242 L154,288 L248,291 L262,380 L305,380 L320,470 L413,470 L421,516 L607,520 L604,477 L791,481 L803,571 L898,574 L911,663 L960,663 L980,798 L1028,798 L1032,840 L988,843 L1000,930 L955,930 L967,1020 L1013,1020 L1020,1065 L1069,1065 L1082,1157 L1130,1157 L1137,1200 L1046,1202 L1048,1243 L955,1241 L948,1197 L808,1195 L810,1238 L673,1237 L677,1278 L490,1276 L510,1412 L557,1412 L563,1455 L517,1456 L524,1500 L572,1500 L575,1528 L102,1528 Q60,1300 40,1100 Z"/>
<path fill="#fff" d="M903,885 L948,885 L955,930 L908,930 Z"/>
<g fill="#000">
<path d="M1203,90 L1248,90 L1253,133 L1208,133 Z"/>
<path d="M1487,97 L1508,97 L1508,142 L1494,142 Z"/>
<path d="M1332,317 L1376,317 L1383,362 L1432,362 L1437,408 L1487,408 L1493,455 L1508,455 L1508,853 L1462,853 L1450,765 L1495,765 L1490,720 L1440,720 L1427,628 L1378,628 Z"/>
<path d="M1143,623 L1188,623 L1196,670 L1336,670 L1333,627 L1380,627 L1396,760 L1306,760 L1310,803 L1265,803 L1270,850 L1320,850 L1325,892 L1228,892 L1205,713 L1155,713 Z"/>
</g>
</g>
<rect x="993" y="923" width="179" height="31" rx="4" fill="#000"/>
<text x="999.5" y="945" font-size="20.5" font-weight="bold" fill="#fff">WMG Count: 0</text>
<rect x="980" y="909" width="750" height="749" fill="none" stroke="#000" stroke-width="2.4"/>
</svg>
</body></html>
